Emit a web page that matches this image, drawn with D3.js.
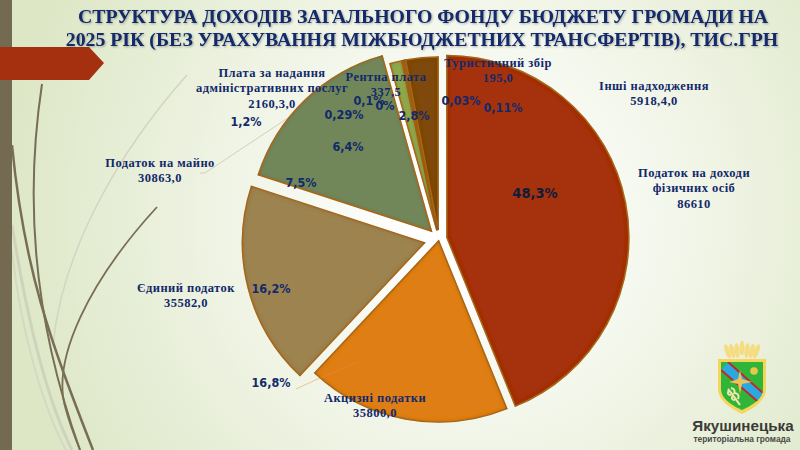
<!DOCTYPE html>
<html>
<head>
<meta charset="utf-8">
<script src="https://cdn.jsdelivr.net/npm/d3@7"></script>
<style>
  html, body { margin: 0; padding: 0; background: #fff; }
  svg { display: block; }
  .name { font-family: "Liberation Serif", serif; font-weight: bold; font-size: 12.5px; fill: #12296a; letter-spacing: .45px; text-anchor: middle; }
  .pct { font-family: "DejaVu Sans Condensed", "DejaVu Sans", sans-serif; font-stretch: condensed; font-weight: bold; font-size: 12.5px; fill: #12296a; text-anchor: middle; }
  .title { font-family: "Liberation Serif", serif; font-weight: bold; font-size: 19.8px; fill: #12296a; text-anchor: middle; }
</style>
</head>
<body>
<div id="chart"></div>
<script>
// chart data
var categories = ["Податок на доходи|фізичних осіб", "Акцизні податки", "Єдиний податок", "Податок на майно",
  "Плата за надання|адміністративних послуг", "Рентна плата", "Туристичний збір", "Інші надходження"];
var values = [86610, 35800, 35582, 30863, 2160.3, 337.5, 195, 5918.4];
var valueLabels = ["86610", "35800,0", "35582,0", "30863,0", "2160,3,0", "337,5", "195,0", "5918,4,0"];
var percentLabels = ["48,3%", "16,8%", "16,2%", "7,5%", "1,2%", "0,1%", "0,03%", "2,8%"];
var extraPercents = ["6,4%", "0,29%", "0%", "0,11%"];
var titleLines = ["СТРУКТУРА ДОХОДІВ ЗАГАЛЬНОГО ФОНДУ БЮДЖЕТУ ГРОМАДИ НА",
  "2025 РІК (БЕЗ УРАХУВАННЯ МІЖБЮДЖЕТНИХ ТРАНСФЕРТІВ), ТИС.ГРН"];

// layout, separate from the data
var width = 800, height = 450;
var cx = 439, cy = 239, radius = 182;
var colors = ["#a5300f", "#e07e18", "#9c8350", "#71875a", "#8fa84c", "#b5701c", "#a5601a", "#7f4a0e"];
var explode = [8, 2, 15, 11, 9, 9, 9, 9];
var outer = [182, 181, 182, 182, 173, 173, 173, 173];
var namePos = [[694, 177], [375, 402], [186, 292], [160, 167], [272, 77], [386, 81], [498, 67], [654, 90]];
var pctPos = [[535, 198], [271, 387], [271, 293], [301, 187], [246, 126], [369, 105], [461, 105], [414, 120]];
var extraPos = [[348, 151], [344, 119], [385, 110], [503, 112]];
var titleX = [423, 422];

var svg = d3.select("#chart").append("svg")
  .attr("width", width)
  .attr("height", height);

var defs = svg.append("defs");

var bg = defs.append("radialGradient").attr("id", "bg")
  .attr("gradientUnits", "userSpaceOnUse")
  .attr("cx", 470).attr("cy", 215).attr("r", 470);
bg.append("stop").attr("offset", "0.12").attr("stop-color", "#ffffff");
bg.append("stop").attr("offset", "1").attr("stop-color", "#dde7c6");

// soft inner edge for the slices
var bevel = defs.append("filter").attr("id", "bevel")
  .attr("x", "-10%").attr("y", "-10%").attr("width", "120%").attr("height", "120%");
bevel.append("feGaussianBlur").attr("in", "SourceAlpha").attr("stdDeviation", 2.2).attr("result", "blur");
bevel.append("feComposite").attr("in", "SourceAlpha").attr("in2", "blur").attr("operator", "out").attr("result", "inner");
bevel.append("feFlood").attr("flood-color", "#3c2000").attr("flood-opacity", 0.55);
bevel.append("feComposite").attr("in2", "inner").attr("operator", "in").attr("result", "innerShadow");
bevel.append("feMerge").selectAll("feMergeNode")
  .data(["SourceGraphic", "innerShadow"])
  .enter().append("feMergeNode").attr("in", function(d) { return d; });

var textShadow = defs.append("filter").attr("id", "textShadow");
textShadow.append("feDropShadow").attr("dx", 1).attr("dy", 1).attr("stdDeviation", 0.8)
  .attr("flood-color", "#000").attr("flood-opacity", 0.3);

svg.append("rect").attr("width", width).attr("height", height).attr("fill", "url(#bg)");

// wisps on the left
var wisps = [
  ["M12 225 C24 300 42 390 72 450", "#d0d3bb", 3],
  ["M12 250 C20 330 44 410 66 450", "#d5d9c2", 2],
  ["M187 75 C120 150 62 250 53 345", "#d3d5c2", 1.5],
  ["M42 84 C26 190 30 310 80 450", "#786e55", 2],
  ["M12 145 C24 270 50 340 93 450", "#786e55", 2.5],
  ["M157 207 C90 280 50 360 66 410 C70 425 76 440 80 450", "#786e55", 1.8]
];
svg.selectAll(".wisp").data(wisps).enter().append("path")
  .attr("class", "wisp")
  .attr("d", function(d) { return d[0]; })
  .attr("fill", "none")
  .attr("stroke", function(d) { return d[1]; })
  .attr("stroke-width", function(d) { return d[2]; });

svg.append("rect").attr("width", 12).attr("height", height).attr("fill", "#746a52");
svg.append("polygon").attr("points", "0,47 89,47 104,63 89,80 0,80").attr("fill", "#a5300f");

// leader lines
svg.append("polyline").attr("points", "200,173 205,173 297,112")
  .attr("fill", "none").attr("stroke", "#c9c6b4").attr("stroke-width", 0.8);
svg.append("polyline").attr("points", "296,389 320,378")
  .attr("fill", "none").attr("stroke", "#eeb47c").attr("stroke-width", 0.8);

// pie
var pie = d3.pie().sort(null).value(function(d) { return d; });
var arc = d3.arc().innerRadius(0).outerRadius(function(d, i) { return outer[d.index]; });

var slices = svg.append("g")
  .attr("transform", "translate(" + cx + "," + cy + ")")
  .selectAll("path")
  .data(pie(values))
  .enter().append("path")
    .attr("d", arc)
    .attr("fill", function(d, i) { return colors[i]; })
    .attr("stroke", "#b8701f")
    .attr("stroke-width", 1.5)
    .attr("filter", "url(#bevel)")
    .attr("transform", function(d, i) {
      var mid = (d.startAngle + d.endAngle) / 2;
      return "translate(" + (Math.sin(mid) * explode[i]) + "," + (-Math.cos(mid) * explode[i]) + ")";
    });

// faint end of the leader over the orange slice
svg.append("line").attr("x1", 320).attr("y1", 378).attr("x2", 358).attr("y2", 362)
  .attr("stroke", "#eeb47c").attr("stroke-width", 0.5).attr("opacity", 0.3);

// category names and values
categories.forEach(function(c, i) {
  var lines = c.split("|").concat(valueLabels[i]);
  var t = svg.append("text").attr("class", "name");
  lines.forEach(function(l, j) {
    t.append("tspan").attr("x", namePos[i][0]).attr("y", namePos[i][1] + j * 15.3).text(l);
  });
});

// percent labels
svg.selectAll(".pct.main").data(percentLabels).enter().append("text")
  .attr("class", "pct main")
  .attr("x", function(d, i) { return pctPos[i][0]; })
  .attr("y", function(d, i) { return pctPos[i][1]; })
  .style("font-size", function(d, i) { return i == 0 ? "14.5px" : null; })
  .style("fill", function(d, i) { return i == 0 ? "#101c3a" : null; })
  .text(function(d) { return d; });

svg.selectAll(".pct.extra").data(extraPercents).enter().append("text")
  .attr("class", "pct extra")
  .attr("x", function(d, i) { return extraPos[i][0]; })
  .attr("y", function(d, i) { return extraPos[i][1]; })
  .text(function(d) { return d; });

// title
svg.selectAll(".title").data(titleLines).enter().append("text")
  .attr("class", "title")
  .attr("x", function(d, i) { return titleX[i]; })
  .attr("y", function(d, i) { return 23 + i * 23.2; })
  .attr("filter", "url(#textShadow)")
  .text(function(d) { return d; });

// emblem of the community
var logo = svg.append("g").attr("transform", "translate(742,373)");
defs.append("clipPath").attr("id", "shield").append("path")
  .attr("d", "M-21,-11 H21 V16 C21,26 9,33 0,37 C-9,33 -21,26 -21,16 Z");
d3.range(-3, 4).forEach(function(k) {
  logo.append("ellipse").attr("cx", k * 5).attr("cy", -23 + Math.abs(k) * 0.5 - (k == 0 ? 2 : 0))
    .attr("rx", 2.5).attr("ry", 7.5)
    .attr("transform", "rotate(" + (k * 7) + " " + (k * 5) + " -23)")
    .attr("fill", "#f5dc80");
});
logo.append("path").attr("d", "M-24,-14 H24 V16 C24,28 10,36 0,41 C-10,36 -24,28 -24,16 Z").attr("fill", "#f3d65a");
logo.append("path").attr("d", "M-21,-11 H21 V16 C21,26 9,33 0,37 C-9,33 -21,26 -21,16 Z").attr("fill", "#2fb53a");
var band = logo.append("g").attr("clip-path", "url(#shield)");
band.append("polygon").attr("points", "-14,-11 21,20 21,33 -21,-3").attr("fill", "#2aa9e0");
band.append("line").attr("x1", -14).attr("y1", -11).attr("x2", 21).attr("y2", 20).attr("stroke", "#c8242a").attr("stroke-width", 2);
band.append("line").attr("x1", -21).attr("y1", -3).attr("x2", 21).attr("y2", 33).attr("stroke", "#c8242a").attr("stroke-width", 2);
logo.append("circle").attr("cx", 12).attr("cy", -2).attr("r", 3.8).attr("fill", "#e8c84a");
logo.append("path").attr("d", "M-2,-3 L0,6 L10,9 L0,11 L-2,21 L-4,11 L-13,9 L-4,6 Z").attr("fill", "#e9c45a");
logo.append("path").attr("d", "M-14,16 C-9,22 -5,28 -2,32 M-13,17 q-3,5 2,5 M-9,22 q-3,5 2,5 M-11,15 q5,1 3,6 M-7,20 q5,1 3,6")
  .attr("fill", "none").attr("stroke", "#f2e6a8").attr("stroke-width", 2);

svg.append("text").attr("x", 743).attr("y", 431)
  .attr("text-anchor", "middle")
  .style("font-family", "'Liberation Sans', sans-serif").style("font-weight", "bold")
  .style("font-size", "15.2px").style("fill", "#3a3a38")
  .text("Якушинецька");
svg.append("text").attr("x", 742).attr("y", 442)
  .attr("text-anchor", "middle")
  .style("font-family", "'Liberation Sans', sans-serif").style("font-weight", "bold")
  .style("font-size", "8.4px").style("fill", "#4a4a48")
  .text("територіальна громада");
</script>
</body>
</html>
